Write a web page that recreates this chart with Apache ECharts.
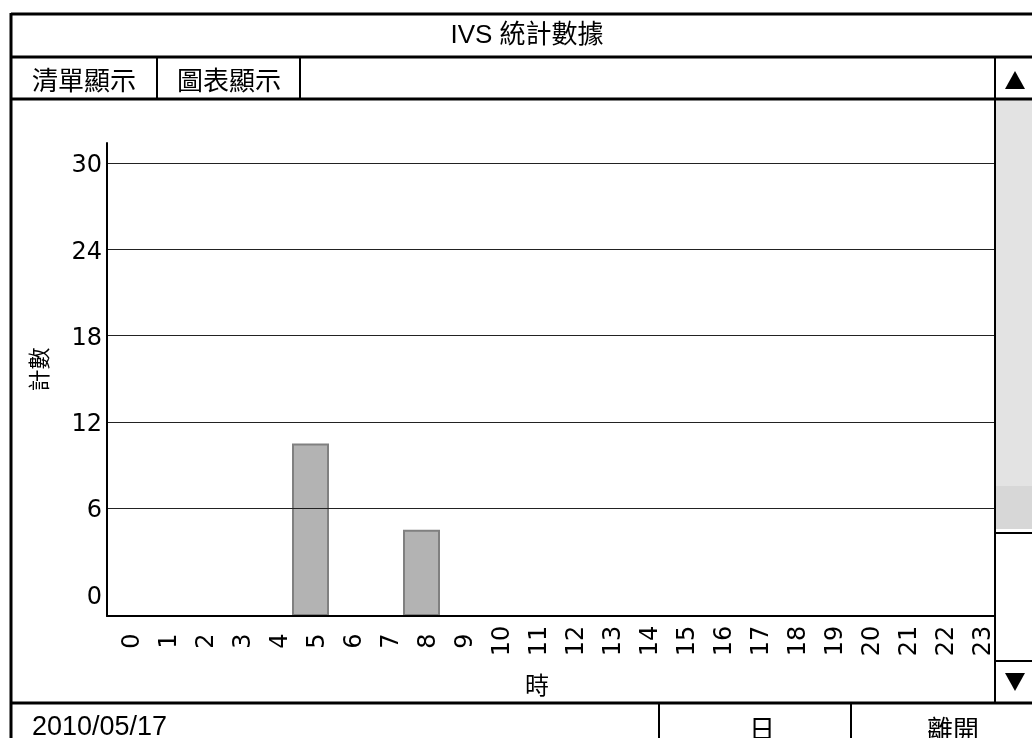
<!DOCTYPE html>
<html>
<head>
<meta charset="utf-8">
<title>IVS 統計數據</title>
<script src="https://cdn.jsdelivr.net/npm/echarts@6/dist/echarts.min.js"></script>
<style>
  html, body { margin: 0; padding: 0; background: #fff; }
  #chart { width: 1032px; height: 738px; }
</style>
</head>
<body>
<div id="chart"></div>
<script>
// hourly counts
const hours = ['0', '1', '2', '3', '4', '5', '6', '7', '8', '9', '10', '11',
  '12', '13', '14', '15', '16', '17', '18', '19', '20', '21', '22', '23'];
const counts = [0, 0, 0, 0, 0, 12, 0, 0, 6, 0, 0, 0,
  0, 0, 0, 0, 0, 0, 0, 0, 0, 0, 0, 0];
const countLabels = [0, 6, 12, 18, 24, 30];
const gridValues = [6, 12, 18, 24, 30];

const cjk = "'Noto Sans CJK TC', sans-serif";
const latin = "'Liberation Sans', 'Noto Sans CJK TC', sans-serif";
const digits = "'DejaVu Sans', sans-serif";

const chart = echarts.init(document.getElementById('chart'));

const line = (x1, y1, x2, y2, w) => ({
  type: 'line',
  shape: { x1, y1, x2, y2 },
  style: { stroke: '#000', lineWidth: w || 2 },
  z: 100
});

const text = (t, x, y, size, family, align) => ({
  type: 'text',
  x, y,
  style: {
    text: t,
    fill: '#000',
    fontSize: size,
    fontFamily: family,
    align: align || 'center',
    textAlign: align || 'center',
    verticalAlign: 'middle',
    textVerticalAlign: 'middle'
  },
  z: 100
});

const option = {
  animation: false,
  backgroundColor: '#fff',
  grid: {
    left: 107,
    right: 37,
    top: 143,
    bottom: 122,
    containLabel: false,
    outerBoundsMode: 'none'
  },
  xAxis: {
    type: 'category',
    data: hours,
    z: 10,
    axisLine: { onZero: false, lineStyle: { color: '#000', width: 2 } },
    axisTick: { show: false },
    axisLabel: {
      rotate: 90,
      align: 'center',
      verticalAlign: 'top',
      lineHeight: 14,
      margin: 25,
      fontSize: 24,
      fontFamily: digits,
      color: '#000',
      interval: 0
    },
    name: '時',
    nameLocation: 'middle',
    nameGap: 57,
    nameTextStyle: { fontSize: 24, fontFamily: cjk, color: '#000', padding: [0, 28, 0, 0] },
    splitLine: { show: false }
  },
  yAxis: [
    {
      type: 'value',
      min: -1.5,
      max: 31.4,
      z: 10,
      axisLine: { show: true, onZero: false, lineStyle: { color: '#000', width: 2 } },
      axisTick: { show: false, customValues: gridValues },
      axisLabel: {
        customValues: countLabels,
        margin: 5,
        verticalAlign: 'top',
        lineHeight: 6,
        fontSize: 24,
        fontFamily: digits,
        color: '#000'
      },
      splitLine: { show: true, lineStyle: { color: '#222', width: 1 } },
      name: '計數',
      nameLocation: 'middle',
      nameRotate: 90,
      nameGap: 57,
      nameTextStyle: { fontSize: 22, fontFamily: cjk, color: '#000', padding: [0, 0, 0, 20] }
    },
    {
      type: 'value',
      min: 0,
      max: 32.9,
      show: false,
      splitLine: { show: false }
    }
  ],
  series: [
    {
      type: 'bar',
      yAxisIndex: 1,
      data: counts,
      barCategoryGap: '0%',
      itemStyle: { color: '#b3b3b3', borderColor: '#808080', borderWidth: 2 }
    }
  ],
  graphic: [
    // scroll column
    { type: 'rect', shape: { x: 996, y: 100, width: 36, height: 429 }, style: { fill: '#e3e3e3' }, z: 90 },
    { type: 'rect', shape: { x: 996, y: 486, width: 36, height: 43 }, style: { fill: '#d7d7d7' }, z: 91 },
    { type: 'polygon', shape: { points: [[1005, 89], [1025, 89], [1015, 71]] }, style: { fill: '#000' }, z: 100 },
    { type: 'polygon', shape: { points: [[1005, 673], [1025, 673], [1015, 691]] }, style: { fill: '#000' }, z: 100 },
    // frame
    line(11, 14, 1032, 14, 3),
    line(11, 13, 11, 738, 3),
    line(11, 57, 1032, 57, 3),
    line(11, 99, 1032, 99, 3),
    line(157, 57, 157, 99, 2),
    line(300, 57, 300, 99, 2),
    line(995, 57, 995, 703, 2),
    line(995, 533, 1032, 533, 2),
    line(995, 661, 1032, 661, 2),
    line(11, 703, 1032, 703, 3),
    line(659, 703, 659, 738, 2),
    line(851, 703, 851, 738, 2),
    // texts
    text('IVS 統計數據', 527, 36, 26, latin),
    text('清單顯示', 84, 80, 26, cjk),
    text('圖表顯示', 229, 80, 26, cjk),
    text('2010/05/17', 32, 728, 27, latin, 'left'),
    text('日', 762, 729, 26, cjk),
    text('離開', 953, 729, 26, cjk)
  ]
};

chart.setOption(option);
window.addEventListener('resize', () => chart.resize());
</script>
</body>
</html>
